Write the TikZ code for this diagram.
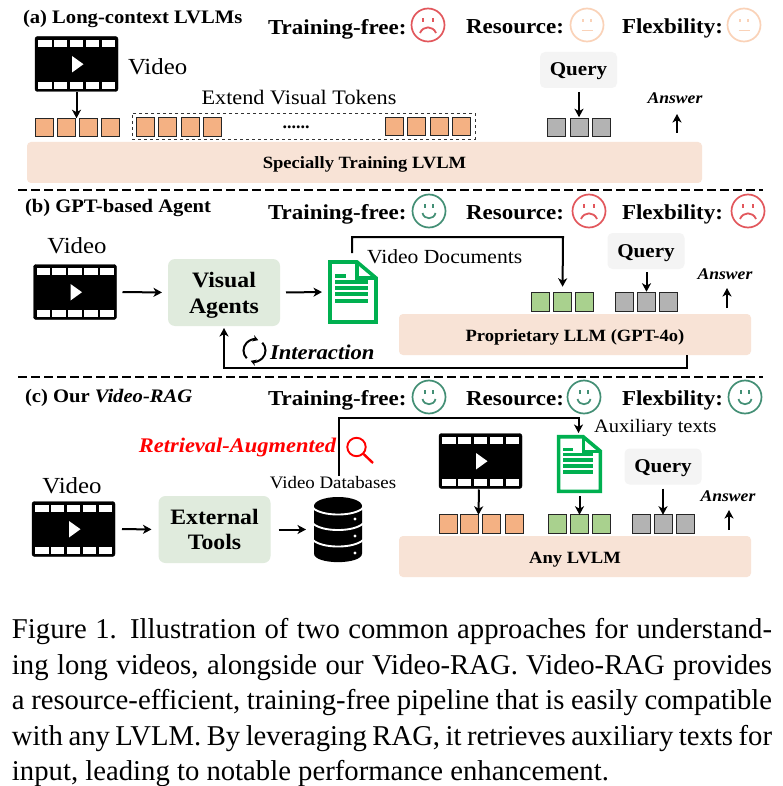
\documentclass[tikz,border=0pt]{standalone}
\usepackage{fontspec}
\setmainfont{Liberation Serif}
\newfontfamily\dfont[FakeStretch=1.08]{Liberation Serif}
\usetikzlibrary{arrows.meta,calc}
\definecolor{orangetok}{HTML}{F4B183}
\definecolor{greentok}{HTML}{A9D18E}
\definecolor{greytok}{HTML}{B3B3B3}
\definecolor{barfill}{HTML}{F8E3D6}
\definecolor{boxgreen}{HTML}{E0EBDD}
\definecolor{querybg}{HTML}{F4F4F4}
\definecolor{docgreen}{HTML}{00B050}
\definecolor{facered}{HTML}{E2575C}
\definecolor{facegreen}{HTML}{438F75}
\definecolor{facepeach}{HTML}{FAD2B8}
\newcommand{\fs}[1]{\fontsize{#1}{#1}\selectfont}
\tikzset{
  x=1pt,y=-1pt,
  every node/.style={inner sep=0pt,outer sep=0pt},
  arr/.style={draw=black,line width=2pt,-{Stealth[length=8.5pt,width=9pt,inset=2.4pt]}},
  token/.style={draw=black!85,line width=0.9pt,minimum width=18pt,minimum height=18.5pt},
  filmbox/.style={fill=black,draw=black,rounded corners=2.5pt,minimum width=83pt,minimum height=55pt},
  docbox/.style={minimum width=50pt,minimum height=64pt},
  bar/.style={fill=barfill,rounded corners=4pt,font=\dfont\bfseries\fs{17.2},text height=16pt,text depth=3pt},
  softbox/.style={fill=boxgreen,rounded corners=7pt,minimum width=112pt,minimum height=67pt},
  softtext/.style={align=center,font=\dfont\bfseries\fs{22}},
  querybox/.style={fill=querybg,rounded corners=5pt,minimum width=77pt,minimum height=36pt,font=\dfont\bfseries\fs{19.5},text height=15pt,text depth=3pt},
  title/.style={anchor=base west,font=\dfont\bfseries\fs{19.1}},
  crit/.style={anchor=base west,font=\dfont\bfseries\fs{21.3}},
  plain/.style={font=\dfont\fs{20.6}},
  answer/.style={font=\dfont\bfseries\itshape\fs{16.3}},
  sep/.style={draw=black,line width=2pt,dash pattern=on 8.5pt off 4.5pt},
  face/.style={circle,line width=1.7pt,minimum size=33pt},
  capline/.style={anchor=base west,font=\fs{28.7}},
}
% film icon: name, cx, cy
\newcommand{\filmicon}[3]{%
  \node[filmbox] (#1) at (#2,#3) {};
  \begin{scope}[shift={(#2,#3)}]
    \foreach \hx in {-31.7,-15.9,0,16,32}{
      \fill[white] (\hx-6.7,-24) rectangle (\hx+6.7,-17);
      \fill[white] (\hx-6.7,18) rectangle (\hx+6.7,25);
    }
    \fill[white] (-4.5,-8) -- (7,0.2) -- (-4.5,8.5) -- cycle;
  \end{scope}}
% document icon: name, cx, cy, scale
\newcommand{\docicon}[4]{%
  \node[docbox,minimum width=50pt*#4,minimum height=64pt*#4] (#1) at (#2,#3) {};
  \begin{scope}[shift={(#2,#3)},scale=#4]
    \draw[docgreen,line width=3.6pt,miter limit=4] (-23,-30) -- (4,-30) -- (23,-14) -- (23,30) -- (-23,30) -- cycle;
    \draw[docgreen,line width=3.2pt] (4,-30) -- (4,-14) -- (23,-14);
    \fill[docgreen] (-18,-18) rectangle (-7,-14.5);
    \foreach \ly in {-12.5,-6.5,0,6.5}{\fill[docgreen] (-18,\ly) rectangle (15,\ly+4);}
  \end{scope}}
% face icons: name, cx, cy
\newcommand{\sadface}[3]{%
  \node[face,draw=facered] (#1) at (#2,#3) {};
  \begin{scope}[shift={(#2,#3)}]
    \fill[facered] (-6.2,-7) rectangle (-4.2,-3);
    \fill[facered] (4.4,-7) rectangle (6.4,-3);
    \draw[facered,line width=1.8pt] (-8,8) .. controls (-5,0.5) and (5,0.5) .. (8,8);
  \end{scope}}
\newcommand{\smileface}[3]{%
  \node[face,draw=facegreen] (#1) at (#2,#3) {};
  \begin{scope}[shift={(#2,#3)}]
    \fill[facegreen] (-5.2,-7) rectangle (-3.4,-3);
    \fill[facegreen] (3.4,-7) rectangle (5.2,-3);
    \draw[facegreen,line width=1.7pt] (-6.5,2) .. controls (-5,9) and (5,9) .. (6.5,2);
  \end{scope}}
\newcommand{\neutralface}[3]{%
  \node[face,draw=facepeach] (#1) at (#2,#3) {};
  \begin{scope}[shift={(#2,#3)}]
    \fill[facepeach] (-5,-6) rectangle (-3.4,-2.5);
    \fill[facepeach] (3.4,-6) rectangle (5,-2.5);
    \draw[facepeach,line width=1.5pt] (-5.5,5.5) -- (5.5,5.5);
  \end{scope}}
\begin{document}
\begin{tikzpicture}
\useasboundingbox (0,0) rectangle (782,786);
\fill[white] (0,0) rectangle (782,786);

% ---------- panel a
\node[title] (ta) at (23,24) {(a) Long-context LVLMs};
\node[crit] (ca1) at (268,34.3) {Training-free:};
\sadface{fa1}{428}{25}
\node[crit] (ca2) at (466,33.3) {Resource:};
\neutralface{fa2}{587}{25}
\node[crit] (ca3) at (622,33.3) {Flexbility:};
\neutralface{fa3}{744}{25}

\filmicon{filmA}{76.5}{64}
\node[plain,font=\dfont\fs{23},anchor=west] (va) at (128,67) {Video};
\node[plain] (ext) at (299,98) {Extend Visual Tokens};
\node[draw=black!80,dashed,line width=0.7pt,minimum width=343pt,minimum height=26pt] (extbox) at (303.5,126) {};
\foreach \n/\x in {1/44.5,2/66,3/88,4/110}{\node[token,fill=orangetok] (oa\n) at (\x,127.5) {};}
\foreach \n/\x in {1/145.5,2/167.5,3/190,4/212}{\node[token,fill=orangetok] (ob\n) at (\x,127) {};}
\foreach \n/\x in {1/394.5,2/416,3/439,4/461}{\node[token,fill=orangetok] (oc\n) at (\x,126.5) {};}
\node[font=\bfseries\fs{18}] (dots) at (296,127.5) {......};
\node[querybox] (qa) at (578.5,70) {Query};
\foreach \n/\x in {1/556.5,2/579,3/601}{\node[token,fill=greytok] (ga\n) at (\x,127.5) {};}
\node[answer] (ansa) at (675,98.5) {Answer};
\node[bar,minimum width=675pt,minimum height=41pt] (bara) at (364.5,162.5) {Specially Training LVLM};
\draw[arr,shorten <=1pt] (filmA.south) -- (filmA.south |- oa2.north);
\draw[arr,shorten <=4pt,shorten >=1pt] (qa.south -| ga2.north) -- (ga2.north);
\draw[arr,shorten <=9pt,shorten >=2pt] (bara.north -| ansa.south) ++(2,0) -- ++(0,-30);

\draw[sep] (18,190) coordinate (sa0) -- (763,190) coordinate (sa1);

% ---------- panel b
\node[title] (tb) at (25,212.7) {(b) GPT-based Agent};
\node[crit] (cb1) at (268,220) {Training-free:};
\smileface{fb1}{429}{211}
\node[crit] (cb2) at (466,220) {Resource:};
\sadface{fb2}{589}{211}
\node[crit] (cb3) at (622,220) {Flexbility:};
\sadface{fb3}{748}{211}

\node[plain,font=\dfont\fs{23}] (vb) at (77,246) {Video};
\filmicon{filmB}{75}{292}
\node[softbox] (agents) at (224,292.5) {};
\node[softtext] (agentsT) at (224,295) {Visual\\[4pt]Agents};
\docicon{docB}{353}{292}{1}
\node[plain,anchor=west,font=\dfont\fs{20}] (vdocs) at (367,257) {Video Documents};
\foreach \n/\x in {1/540,2/562.5,3/584}{\node[token,fill=greentok] (gb\n) at (\x,302) {};}
\foreach \n/\x in {1/624,2/646.5,3/668}{\node[token,fill=greytok] (hb\n) at (\x,302) {};}
\node[querybox] (qb) at (646,251) {Query};
\node[answer] (ansb) at (725,274.5) {Answer};
\node[bar,minimum width=352pt,minimum height=41pt] (barb) at (575,334.5) {Proprietary LLM (GPT-4o)};
\node[anchor=west,font=\dfont\bfseries\itshape\fs{21}] (inter) at (270,352.5) {Interaction};
\draw[arr,shorten <=6pt,shorten >=6pt] (filmB.east) -- (agents.west);
\draw[arr,shorten <=6pt,shorten >=6pt] (agents.east) -- (docB.west);
\draw[arr,shorten >=6pt] (352,253) coordinate (dtop) -- (352,237) -- (563,237) -- (gb2.north);
\draw[arr,shorten <=3pt,shorten >=1pt] (qb.south -| hb2.north) -- (hb2.north);
\draw[arr,shorten <=2pt] (727,310) coordinate (ab0) -- (727,288) coordinate (ab1);
\draw[arr,shorten >=2pt] (barb.south -| 687,0) -- (687,367.5) -- (224,367.5) -- (agents.south);
\draw[line width=2pt,-{Stealth[length=5.5pt,width=6.5pt]}] ({254.5+11*cos(225)},{350.5-11*sin(225)}) arc[start angle=225,end angle=70,radius=11pt];
\draw[line width=2pt,-{Stealth[length=5.5pt,width=6.5pt]}] ({254.5+11*cos(45)},{350.5-11*sin(45)}) arc[start angle=45,end angle=-110,radius=11pt];

\draw[sep] (18,377) coordinate (sb0) -- (763,377) coordinate (sb1);

% ---------- panel c
\node[title] (tc) at (25,402.7) {(c) Our \textit{Video-RAG}};
\node[crit] (cc1) at (268,405.7) {Training-free:};
\smileface{fc1}{429}{397}
\node[crit] (cc2) at (466,405.7) {Resource:};
\smileface{fc2}{584}{397}
\node[crit] (cc3) at (622,405.7) {Flexbility:};
\smileface{fc3}{745}{397}

\node[plain,font=\dfont\fs{23}] (vc) at (72,486) {Video};
\filmicon{filmC}{73.5}{529}
\node[softbox] (tools) at (214.5,529.5) {};
\node[softtext] (toolsT) at (214.5,529.5) {External\\[3pt]Tools};
\node[minimum width=48pt,minimum height=65pt] (db) at (338,529.5) {};
\begin{scope}[shift={(338,529.5)}]
  \fill[black] (-24,-22) -- (24,-22) -- (24,24) .. controls (24,35.5) and (-24,35.5) .. (-24,24) -- cycle;
  \fill[black] (0,-23.5) ellipse (24pt and 9pt);
  \foreach \by in {-21.5,-6,10.5}{
    \draw[white,line width=1.9pt] (-25,\by) .. controls (-16,\by+8.7) and (16,\by+8.7) .. (25,\by);
  }
  \fill[white] (17,-10.5) circle (1.7pt);
  \fill[white] (17,6.5) circle (1.7pt);
  \fill[white] (17,23.5) circle (1.7pt);
\end{scope}
\node[plain,font=\dfont\fs{17.5}] (vdb) at (333,482.5) {Video Databases};
\node[font=\dfont\bfseries\itshape\fs{20.8},text=red,anchor=east] (retr) at (336,447.5) {Retrieval-Augmented};
\draw[red,line width=1.9pt] (356.5,447) circle (9.2pt);
\draw[red,line width=2.4pt] (363.5,454) -- (373,463);
\node[plain,font=\dfont\fs{19},anchor=west] (aux) at (594,428) {Auxiliary texts};
\filmicon{filmD}{480.5}{461}
\docicon{docC}{579.5}{464}{0.91}
\node[querybox] (qc) at (663,466.5) {Query};
\foreach \n/\x in {1/448,2/469.5,3/491.5,4/514}{\node[token,fill=orangetok] (oe\n) at (\x,524) {};}
\foreach \n/\x in {1/557,2/579.5,3/601}{\node[token,fill=greentok] (ge\n) at (\x,524) {};}
\foreach \n/\x in {1/641,2/663.5,3/685}{\node[token,fill=greytok] (he\n) at (\x,524) {};}
\node[answer] (ansc) at (728,496.5) {Answer};
\node[bar,minimum width=352pt,minimum height=41pt] (barc) at (575,556.5) {Any LVLM};
\draw[arr,shorten <=7pt,shorten >=7pt] (filmC.east) -- (tools.west);
\draw[arr,shorten <=8pt,shorten >=8pt] (tools.east) -- (db.west);
\draw[arr] (339,476) coordinate (ctop) -- (339,418) -- (578.5,418) -- (578.5,433);
\draw[arr,shorten <=1pt] (filmD.south -| oe2.east) ++(0.5,0) -- (oe2.east |- oe2.north);
\draw[arr,shorten <=3pt,shorten >=0pt] (docC.south) -- (ge2.north);
\draw[arr,shorten <=4pt] (qc.south) -- (qc.south |- he2.north);
\draw[arr,shorten <=2pt] (729,532) coordinate (ac0) -- (729,510) coordinate (ac1);

% ---------- caption
\node[capline] (c1) at (12,638) {\makebox[760pt][s]{Figure 1. Illustration of two common approaches for understand-}};
\node[capline] (c2) at (12,674) {\makebox[760pt][s]{ing long videos, alongside our Video-RAG. Video-RAG provides}};
\node[capline] (c3) at (12,709.5) {\makebox[760pt][s]{a resource-efficient, training-free pipeline that is easily compatible}};
\node[capline] (c4) at (12,745) {\makebox[760pt][s]{with any LVLM. By leveraging RAG, it retrieves auxiliary texts for}};
\node[capline] (c5) at (12,780) {input, leading to notable performance enhancement.};
\end{tikzpicture}
\end{document}
